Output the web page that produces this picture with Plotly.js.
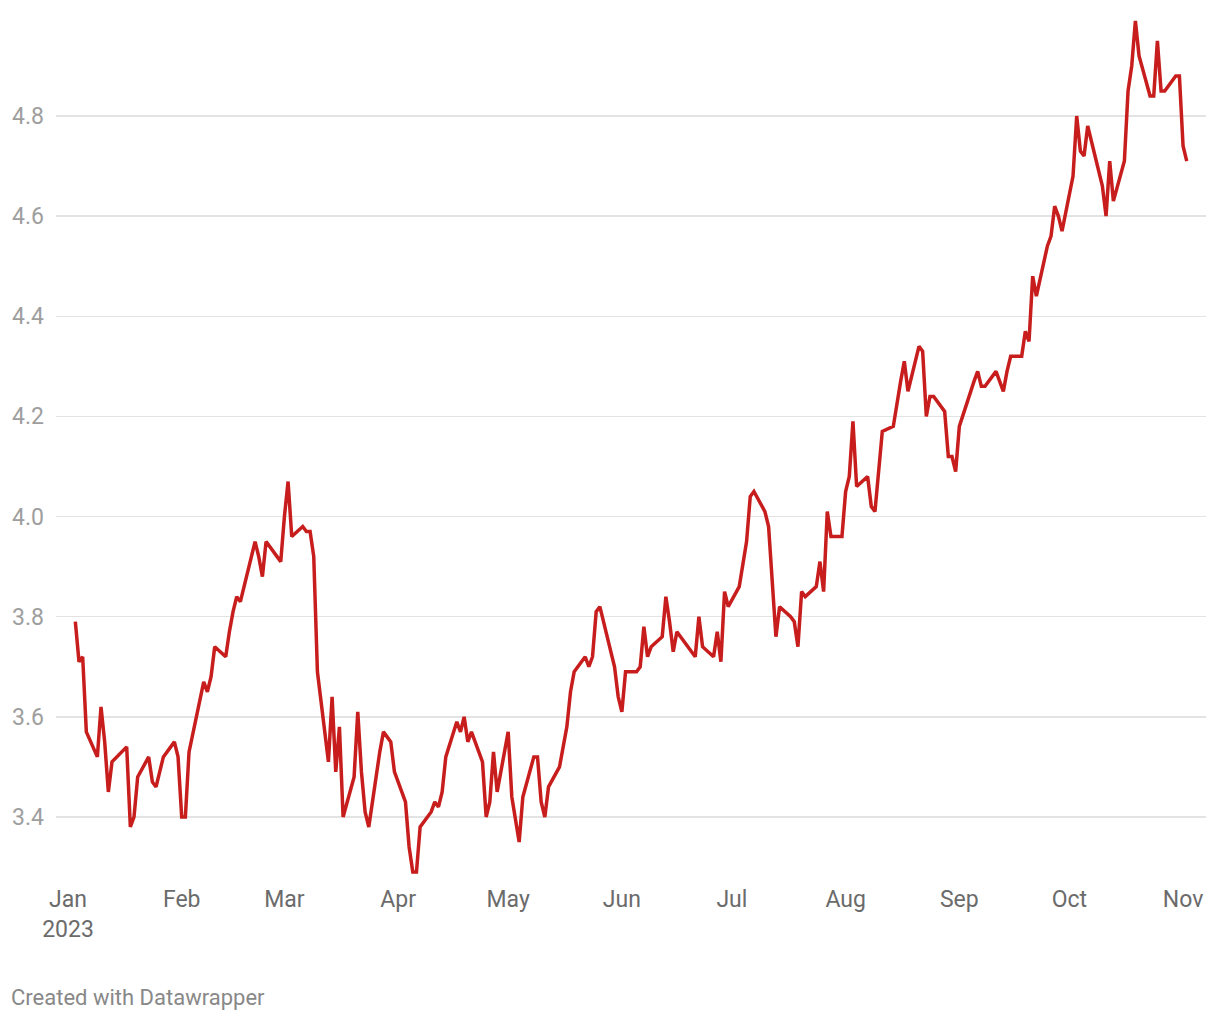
<!DOCTYPE html>
<html>
<head>
<meta charset="utf-8">
<script src="https://cdn.plot.ly/plotly-3.0.1.min.js"></script>
<style>
html,body{margin:0;padding:0;background:#fff;}
#chart{width:1220px;height:1020px;}
</style>
</head>
<body>
<div id="chart"></div>
<script>
// Daily 10-year yield, 2023
const dates = [
"2023-01-03","2023-01-04","2023-01-05","2023-01-06","2023-01-09","2023-01-10","2023-01-11","2023-01-12","2023-01-13",
"2023-01-17","2023-01-18","2023-01-19","2023-01-20","2023-01-23","2023-01-24","2023-01-25","2023-01-26","2023-01-27",
"2023-01-30","2023-01-31","2023-02-01","2023-02-02","2023-02-03","2023-02-06","2023-02-07","2023-02-08","2023-02-09",
"2023-02-10","2023-02-13","2023-02-14","2023-02-15","2023-02-16","2023-02-17","2023-02-21","2023-02-22","2023-02-23",
"2023-02-24","2023-02-27","2023-02-28","2023-03-01","2023-03-02","2023-03-03","2023-03-06","2023-03-07","2023-03-08",
"2023-03-09","2023-03-10","2023-03-13","2023-03-14","2023-03-15","2023-03-16","2023-03-17","2023-03-20","2023-03-21",
"2023-03-22","2023-03-23","2023-03-24","2023-03-27","2023-03-28","2023-03-29","2023-03-30","2023-03-31","2023-04-03",
"2023-04-04","2023-04-05","2023-04-06","2023-04-07","2023-04-10","2023-04-11","2023-04-12","2023-04-13","2023-04-14",
"2023-04-17","2023-04-18","2023-04-19","2023-04-20","2023-04-21","2023-04-24","2023-04-25","2023-04-26","2023-04-27",
"2023-04-28","2023-05-01","2023-05-02","2023-05-03","2023-05-04","2023-05-05","2023-05-08","2023-05-09","2023-05-10",
"2023-05-11","2023-05-12","2023-05-15","2023-05-16","2023-05-17","2023-05-18","2023-05-19","2023-05-22","2023-05-23",
"2023-05-24","2023-05-25","2023-05-26","2023-05-30","2023-05-31","2023-06-01","2023-06-02","2023-06-05","2023-06-06",
"2023-06-07","2023-06-08","2023-06-09","2023-06-12","2023-06-13","2023-06-14","2023-06-15","2023-06-16","2023-06-20",
"2023-06-21","2023-06-22","2023-06-23","2023-06-26","2023-06-27","2023-06-28","2023-06-29","2023-06-30","2023-07-03",
"2023-07-05","2023-07-06","2023-07-07","2023-07-10","2023-07-11","2023-07-12","2023-07-13","2023-07-14","2023-07-17",
"2023-07-18","2023-07-19","2023-07-20","2023-07-21","2023-07-24","2023-07-25","2023-07-26","2023-07-27","2023-07-28",
"2023-07-31","2023-08-01","2023-08-02","2023-08-03","2023-08-04","2023-08-07","2023-08-08","2023-08-09","2023-08-10",
"2023-08-11","2023-08-14","2023-08-15","2023-08-16","2023-08-17","2023-08-18","2023-08-21","2023-08-22","2023-08-23",
"2023-08-24","2023-08-25","2023-08-28","2023-08-29","2023-08-30","2023-08-31","2023-09-01","2023-09-05","2023-09-06",
"2023-09-07","2023-09-08","2023-09-11","2023-09-12","2023-09-13","2023-09-14","2023-09-15","2023-09-18","2023-09-19",
"2023-09-20","2023-09-21","2023-09-22","2023-09-25","2023-09-26","2023-09-27","2023-09-28","2023-09-29","2023-10-02",
"2023-10-03","2023-10-04","2023-10-05","2023-10-06","2023-10-10","2023-10-11","2023-10-12","2023-10-13","2023-10-16",
"2023-10-17","2023-10-18","2023-10-19","2023-10-20","2023-10-23","2023-10-24","2023-10-25","2023-10-26","2023-10-27",
"2023-10-30","2023-10-31","2023-11-01","2023-11-02"
];
const yields = [
3.79,3.71,3.72,3.57,3.52,3.62,3.55,3.45,3.51,
3.54,3.38,3.40,3.48,3.52,3.47,3.46,3.49,3.52,
3.55,3.52,3.40,3.40,3.53,3.63,3.67,3.65,3.68,
3.74,3.72,3.77,3.81,3.84,3.83,3.95,3.92,3.88,
3.95,3.92,3.91,4.00,4.07,3.96,3.98,3.97,3.97,
3.92,3.69,3.51,3.64,3.49,3.58,3.40,3.48,3.61,
3.49,3.41,3.38,3.53,3.57,3.56,3.55,3.49,3.43,
3.34,3.29,3.29,3.38,3.41,3.43,3.42,3.45,3.52,
3.59,3.57,3.60,3.55,3.57,3.51,3.40,3.43,3.53,
3.45,3.57,3.44,3.39,3.35,3.44,3.52,3.52,3.43,
3.40,3.46,3.50,3.54,3.58,3.65,3.69,3.72,3.70,
3.72,3.81,3.82,3.70,3.64,3.61,3.69,3.69,3.70,
3.78,3.72,3.74,3.76,3.84,3.79,3.73,3.77,3.73,
3.72,3.80,3.74,3.72,3.77,3.71,3.85,3.82,3.86,
3.95,4.04,4.05,4.01,3.98,3.86,3.76,3.82,3.80,
3.79,3.74,3.85,3.84,3.86,3.91,3.85,4.01,3.96,
3.96,4.05,4.08,4.19,4.06,4.08,4.02,4.01,4.10,
4.17,4.18,4.23,4.27,4.31,4.25,4.34,4.33,4.20,
4.24,4.24,4.21,4.12,4.12,4.09,4.18,4.27,4.29,
4.26,4.26,4.29,4.27,4.25,4.29,4.32,4.32,4.37,
4.35,4.48,4.44,4.54,4.56,4.62,4.60,4.57,4.68,
4.80,4.73,4.72,4.78,4.66,4.60,4.71,4.63,4.71,
4.85,4.90,4.99,4.92,4.84,4.84,4.95,4.85,4.85,
4.88,4.88,4.74,4.71
];
const xTickVals = ["2023-01-01","2023-02-01","2023-03-01","2023-04-01","2023-05-01","2023-06-01","2023-07-01","2023-08-01","2023-09-01","2023-10-01","2023-11-01"];
const xTickText = ["Jan<br>2023","Feb","Mar","Apr","May","Jun","Jul","Aug","Sep","Oct","Nov"];
const yTickVals = [3.4,3.6,3.8,4.0,4.2,4.4,4.6,4.8];
const yTickText = ["3.4","3.6","3.8","4.0","4.2","4.4","4.6","4.8"];
const footerText = "Created with Datawrapper";

const trace = {
  x: dates, y: yields, type: "scatter", mode: "lines",
  line: {color: "#c71e1d", width: 3.5, shape: "linear"},
  hoverinfo: "x+y"
};

const layout = {
  width: 1220, height: 1020,
  margin: {l: 56, r: 14, t: 10, b: 140, pad: 0},
  paper_bgcolor: "#ffffff", plot_bgcolor: "#ffffff",
  showlegend: false,
  font: {family: "Roboto, 'Open Sans', sans-serif", size: 23, color: "#666"},
  xaxis: {
    type: "date",
    range: ["2022-12-28 17:30", "2023-11-07 06:00"],
    tickmode: "array", tickvals: xTickVals, ticktext: xTickText,
    showgrid: false, zeroline: false, showline: false, ticks: "",
    tickfont: {family: "Roboto", size: 23, color: "#6b6b6b"},
    ticklabelstandoff: 3,
    fixedrange: true
  },
  yaxis: {
    range: [3.2741, 5.0117],
    tickmode: "array", tickvals: yTickVals, ticktext: yTickText,
    showgrid: true, gridcolor: "#e3e3e3", gridwidth: 1.5,
    zeroline: false, showline: false, ticks: "",
    tickfont: {family: "Roboto", size: 23, color: "#9e9e9e"},
    ticklabelstandoff: 11,
    fixedrange: true
  },
  annotations: [{
    text: footerText, xref: "paper", yref: "paper",
    x: (9 - 56) / 1150, y: (880 - 997) / 870,
    xanchor: "left", yanchor: "middle", showarrow: false,
    font: {family: "Roboto", size: 22, color: "#888888"}
  }]
};

Plotly.newPlot("chart", [trace], layout, {displayModeBar: false, staticPlot: true});
</script>
</body>
</html>
